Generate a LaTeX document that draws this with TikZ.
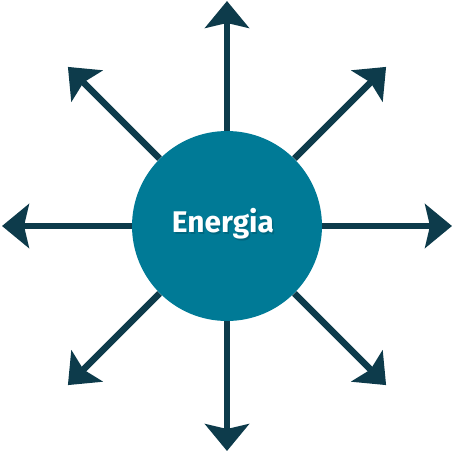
\documentclass[tikz,border=0pt]{standalone}
\usepackage{fontspec}
\setmainfont{Fira Sans}
\usetikzlibrary{arrows.meta,calc}

\definecolor{tealc}{HTML}{007A96}
\definecolor{darkc}{HTML}{0D3B4B}

\begin{document}
\begin{tikzpicture}[
    x=0.02cm, y=-0.02cm,
    ray/.style={draw=darkc, line width=0.13cm, -{Stealth[length=0.54cm, width=0.88cm, inset=0.1cm]}},
    hub/.style={circle, fill=tealc, minimum size=3.8cm, inner sep=0pt},
    lbl/.style={font=\fontsize{17}{20}\selectfont\bfseries, anchor=base}
]
\useasboundingbox (0,0) rectangle (454,454);
\node[hub] (energia) at (227,226) {};
% rays
\foreach \a in {0,45,...,315} {
  \coordinate (tip\a) at ($(energia.center)+(\a:225)$);
  \draw[ray] (energia) -- (tip\a);
}
\node[lbl, text=black, opacity=0.15] (shadow) at ($(energia.center)+(-2.5,8)$) {Energia};
\node[lbl, text=white] (label) at ($(energia.center)+(-4,6)$) {Energia};
\end{tikzpicture}
\end{document}
